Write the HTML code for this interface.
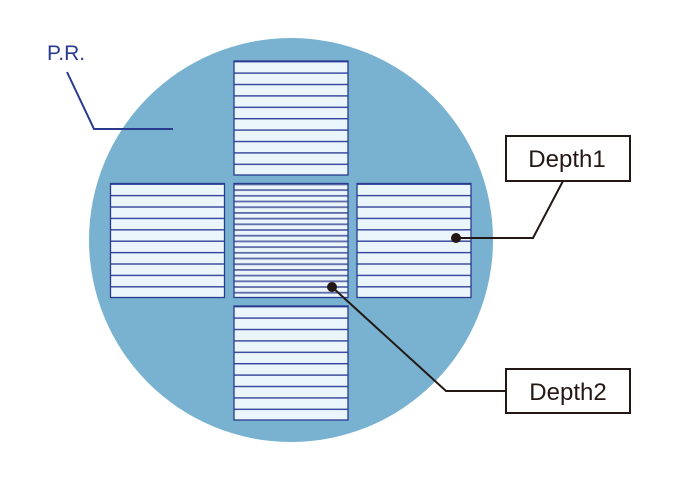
<!DOCTYPE html>
<html><head><meta charset="utf-8"><style>
html,body{margin:0;padding:0;background:#fff;}
svg{display:block;}
text{font-family:"Liberation Sans",sans-serif;}
</style></head><body>
<svg width="675" height="478" viewBox="0 0 675 478" xmlns="http://www.w3.org/2000/svg">
<defs>
<pattern id="pt" width="10" height="11.4" patternUnits="userSpaceOnUse" patternTransform="translate(0,61)"><rect width="10" height="11.4" fill="#eaf6fc"/><rect y="0" width="10" height="1.4" fill="#33429a"/></pattern>
<pattern id="pm" width="10" height="11.4" patternUnits="userSpaceOnUse" patternTransform="translate(0,183.5)"><rect width="10" height="11.4" fill="#eaf6fc"/><rect y="0" width="10" height="1.4" fill="#33429a"/></pattern>
<pattern id="pb" width="10" height="11.4" patternUnits="userSpaceOnUse" patternTransform="translate(0,306)"><rect width="10" height="11.4" fill="#eaf6fc"/><rect y="0" width="10" height="1.4" fill="#33429a"/></pattern>
<pattern id="pc" width="10" height="5.7" patternUnits="userSpaceOnUse" patternTransform="translate(0,183.5)"><rect width="10" height="5.7" fill="#eaf6fc"/><rect y="0" width="10" height="1.8" fill="#5f6aa8"/></pattern>
</defs>
<circle cx="291" cy="240" r="202" fill="#78b2d0"/>
<g stroke="#2a3a8f" stroke-width="1.3">
<rect x="234" y="61" width="114" height="114" fill="url(#pt)"/>
<rect x="110.5" y="183.5" width="114" height="114" fill="url(#pm)"/>
<rect x="234" y="183.5" width="114" height="114" fill="url(#pc)"/>
<rect x="357" y="183.5" width="114" height="114" fill="url(#pm)"/>
<rect x="234" y="306" width="114" height="114" fill="url(#pb)"/>
</g>
<text x="47" y="60" font-size="21" fill="#2a3a8f">P.R.</text>
<polyline points="67,72 94,129 173,129" fill="none" stroke="#2a3a8f" stroke-width="2"/>
<polyline points="456,238 533,238 563,181" fill="none" stroke="#231815" stroke-width="2"/>
<circle cx="456" cy="238" r="5" fill="#231815"/>
<polyline points="332,287 446,391 506,391" fill="none" stroke="#231815" stroke-width="2"/>
<circle cx="332" cy="287" r="5" fill="#231815"/>
<rect x="506" y="136" width="124" height="45" fill="#fff" stroke="#231815" stroke-width="2"/>
<text x="567" y="167" font-size="24" text-anchor="middle" fill="#231815">Depth1</text>
<rect x="506" y="369" width="124" height="44" fill="#fff" stroke="#231815" stroke-width="2"/>
<text x="568" y="400" font-size="24" text-anchor="middle" fill="#231815">Depth2</text>
</svg>
</body></html>
